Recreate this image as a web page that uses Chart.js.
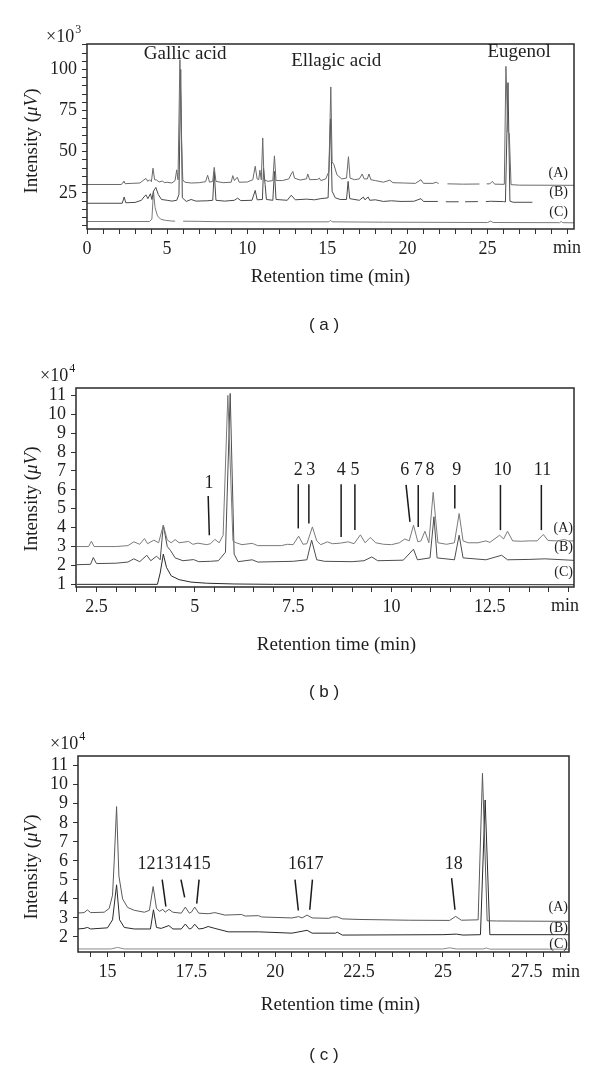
<!DOCTYPE html>
<html>
<head>
<meta charset="utf-8">
<script src="https://cdn.jsdelivr.net/npm/chart.js@4.4.1/dist/chart.umd.min.js"></script>
<style>
  body { margin: 0; background: #fff; width: 600px; height: 1068px; position: relative; overflow: hidden; }
  canvas { position: absolute; left: 0; }
  .cap { position: absolute; left: 0; width: 648px; text-align: center; color: #222;
         font: 17px "Liberation Sans", Arial, sans-serif; line-height: 20px; }
</style>
</head>
<body>
<canvas id="panel-a" width="600" height="330" style="top:0"></canvas>
<canvas id="panel-b" width="600" height="370" style="top:330px"></canvas>
<canvas id="panel-c" width="600" height="368" style="top:700px"></canvas>
<div class="cap" style="top:315px">( a )</div>
<div class="cap" style="top:682px">( b )</div>
<div class="cap" style="top:1045px">( c )</div>
<script>
// ===== Panel (a): full run, intensity x10^3 uV =====
const fullA = [[0,30.1],[2.15,30.1],[2.25,31.5],[2.3,32.2],[2.38,30.6],[2.8,30.8],[3.3,31],[3.5,32.5],[3.68,33.8],[3.8,32],[3.9,33],[4.02,31.8],[4.12,40],[4.22,33],[4.35,32.8],[4.5,31.6],[4.7,32.2],[4.85,31.2],[5.0,31.5],[5.3,31],[5.5,32.5],[5.6,39],[5.68,33],[5.8,106],[5.9,57],[5.98,33],[6.1,31.5],[6.5,31],[7.0,31.2],[7.4,31.8],[7.53,35.7],[7.65,31.5],[7.85,32],[7.94,40.5],[8.05,32],[8.5,31.2],[9.0,31.5],[9.1,35.5],[9.2,32.5],[9.38,34.5],[9.5,31.5],[10.0,31.6],[10.35,33],[10.5,41.2],[10.62,33.5],[10.72,33],[10.79,38.8],[10.88,33],[10.97,58.4],[11.05,33],[11.3,32],[11.6,32.5],[11.7,47.5],[11.8,32.5],[12.2,32.5],[12.6,33.5],[12.75,36.5],[12.85,38],[12.95,34],[13.3,32.8],[13.7,33.5],[13.78,36.5],[13.9,33],[14.4,33.2],[14.5,34],[14.6,32.5],[14.9,33.5],[15.1,38],[15.22,89.4],[15.3,44],[15.42,42],[15.6,36],[15.9,33.5],[16.2,34],[16.32,47],[16.42,34],[16.7,33],[17.0,33.5],[17.18,36.5],[17.3,33.5],[17.5,33.5],[17.6,36.5],[17.72,33],[18.0,32.5],[18.5,31.5],[18.9,32.7],[19.1,31.2],[19.8,31],[20.5,30.8],[20.85,33],[21.0,30.8],[21.6,30.8],[21.8,31.5],[21.95,30.6],[22.0,null],[22.5,30.5],[23.5,30.3],[24.5,30.4],[24.6,null],[24.95,30.5],[25.15,30.5],[25.3,32],[25.45,30.3],[26.05,30.2],[26.15,101.9],[26.27,62],[26.36,61],[26.47,30],[27,29.7],[30.4,29.6]];
const fullB = [[0,18.7],[2.2,18.7],[2.32,22.5],[2.42,19],[3.0,19.2],[3.4,20.5],[3.55,22.5],[3.68,23.8],[3.8,21.5],[3.96,24.5],[4.05,21],[4.15,26],[4.3,28.3],[4.45,24],[4.65,21],[5.0,20.5],[5.3,20],[5.6,20.5],[5.74,24],[5.85,100],[5.95,22],[6.2,19.8],[6.5,21],[6.8,20],[7.5,20.2],[7.85,20.5],[7.94,38],[8.05,20.5],[8.6,20],[9.2,20.5],[9.4,21.8],[9.6,20.3],[10.3,20.5],[10.5,26.5],[10.62,20.8],[10.95,21],[11.02,40],[11.12,30],[11.2,21],[11.6,20.5],[11.7,38],[11.8,21],[12.5,20.5],[12.75,23.6],[13.0,20.8],[13.7,21.2],[14.2,20.8],[14.6,21.5],[15.05,22],[15.2,70],[15.3,26],[15.5,22],[15.8,21],[16.2,21],[16.3,32],[16.4,21.5],[17.0,20.5],[17.25,22.5],[17.35,20.8],[17.55,22.5],[17.65,20.5],[18.0,20.8],[18.5,19.8],[19.0,20.2],[19.6,19.8],[20.4,19.9],[20.85,21.5],[21.0,19.8],[21.9,19.8],[22.0,null],[22.4,19.6],[23.2,19.6],[23.3,null],[23.6,19.6],[24.4,19.7],[24.5,null],[24.9,19.7],[25.2,19.9],[26.0,19.7],[26.12,19.5],[26.28,92],[26.4,20],[26.6,19.3],[27.8,19.3]];
const fullC = [[0,7.6],[3.9,7.6],[4.05,9],[4.15,26],[4.25,16],[4.4,11],[4.6,9],[4.9,8.3],[5.3,7.9],[5.5,7.8],[5.55,null],[6.0,7.8],[7.0,7.7],[8.0,7.5],[12,7.4],[15.1,7.4],[15.2,8.4],[15.3,7.4],[18.5,7.2],[25.0,7.0],[25.2,7.8],[25.35,7.0],[29.5,6.9],[29.6,7.6],[29.7,6.9],[30.4,6.8]];
const fullXTicks = [0,1,2,3,4,5,6,7,8,9,10,11,12,13,14,15,16,17,18,19,20,21,22,23,24,25,26,27,28,29,30];
const fullXLabels = [0,5,10,15,20,25];
const fullYTicks = [5,10,15,20,25,30,35,40,45,50,55,60,65,70,75,80,85,90,95,100,105,110,115];
const fullYLabels = [25,50,75,100];
const fullNames = ['Gallic acid','Ellagic acid','Eugenol'];
const fullNameX = [6.13, 15.56, 26.97];
const fullNameY = [109.4, 105.3, 110.4];
const fullSeriesY = [36.8, 25.2, 13.4];

// ===== Panel (b): 2-14.6 min, intensity x10^4 uV =====
const earlyA = [[2.0,3.0],[2.3,3.0],[2.37,3.28],[2.44,3.0],[3.0,3.0],[3.3,3.05],[3.45,3.25],[3.6,3.12],[3.72,3.42],[3.8,3.15],[3.96,3.34],[4.08,3.2],[4.2,4.13],[4.3,3.35],[4.4,3.2],[4.5,3.37],[4.6,3.2],[4.84,3.27],[4.95,3.12],[5.08,3.18],[5.3,3.1],[5.4,3.15],[5.51,3.38],[5.62,3.2],[5.72,3.6],[5.84,11.0],[5.97,3.3],[6.05,3.2],[6.2,3.1],[6.46,3.17],[6.6,3.05],[7.2,3.05],[7.35,3.12],[7.5,3.1],[7.64,3.55],[7.75,3.12],[7.85,3.15],[7.99,4.04],[8.1,3.3],[8.2,3.1],[8.37,3.25],[8.5,3.15],[8.7,3.18],[8.9,3.25],[9.05,3.15],[9.21,3.62],[9.33,3.2],[9.46,3.48],[9.6,3.2],[9.8,3.12],[10.0,3.1],[10.2,3.2],[10.34,3.4],[10.45,3.3],[10.56,4.13],[10.67,3.25],[10.75,3.3],[10.85,3.81],[10.95,3.2],[11.06,5.87],[11.12,4.5],[11.18,3.2],[11.4,3.12],[11.6,3.2],[11.72,4.75],[11.82,3.3],[11.95,3.2],[12.2,3.2],[12.4,3.3],[12.5,3.22],[12.75,3.6],[12.85,3.4],[12.95,3.81],[13.08,3.3],[13.3,3.28],[13.5,3.3],[13.7,3.3],[13.86,3.64],[13.98,3.32],[14.2,3.3],[14.4,3.37],[14.5,3.3],[14.64,3.3]];
const earlyB = [[2.0,2.04],[2.35,2.06],[2.42,2.42],[2.5,2.1],[3.0,2.12],[3.3,2.18],[3.45,2.35],[3.6,2.2],[3.78,2.54],[3.88,2.25],[4.03,2.49],[4.12,2.3],[4.2,4.13],[4.3,3.0],[4.38,2.8],[4.5,2.4],[4.7,2.25],[4.97,2.31],[5.1,2.2],[5.4,2.22],[5.6,2.25],[5.78,2.7],[5.9,11.1],[6.0,2.6],[6.1,2.2],[6.46,2.3],[6.6,2.18],[7.5,2.22],[7.85,2.3],[7.97,3.34],[8.1,2.3],[8.3,2.22],[9.0,2.2],[9.3,2.25],[9.5,2.45],[9.65,2.25],[10.3,2.28],[10.56,2.86],[10.66,2.3],[10.98,2.4],[11.08,4.58],[11.16,2.4],[11.6,2.3],[11.72,3.6],[11.82,2.4],[12.4,2.3],[12.8,2.54],[12.95,2.3],[13.5,2.32],[13.9,2.35],[14.64,2.27]];
const earlyC = [[2.0,1.0],[4.05,1.0],[4.12,1.6],[4.2,2.6],[4.28,1.9],[4.4,1.45],[4.6,1.25],[4.9,1.12],[5.3,1.06],[6.0,1.02],[7.0,1.0],[14.64,0.98]];
const earlyXTicks = [2,2.5,3,3.5,4,4.5,5,5.5,6,6.5,7,7.5,8,8.5,9,9.5,10,10.5,11,11.5,12,12.5,13,13.5,14,14.5];
const earlyXLabels = [2.5,5,7.5,10,12.5];
const earlyYTicks = [1,2,3,4,5,6,7,8,9,10,11];
const earlyNums = ['1','2','3','4','5','6','7','8','9','10','11'];
const earlyNumX = [5.36, 7.63, 7.95, 8.72, 9.07, 10.34, 10.68, 10.98, 11.66, 12.82, 13.84];
const earlyNumY = [6.35, 7.05, 7.05, 7.05, 7.05, 7.05, 7.05, 7.05, 7.05, 7.05, 7.05];
const earlyLeaders = [[5.34,5.67,5.37,3.6],[7.63,6.3,7.63,3.96],[7.9,6.3,7.9,4.22],[8.72,6.3,8.72,3.51],[9.07,6.3,9.07,3.87],[10.37,6.26,10.47,4.31],[10.68,6.26,10.68,4.04],[11.61,6.26,11.61,5.02],[12.77,6.26,12.77,3.87],[13.81,6.26,13.81,3.87]];
const earlySeriesY = [3.96, 2.98, 1.65];

// ===== Panel (c): 14.1-28.8 min, intensity x10^4 uV =====
const lateA = [[14.12,3.26],[14.3,3.28],[14.4,3.42],[14.5,3.28],[14.9,3.3],[15.05,3.5],[15.15,4.2],[15.2,6],[15.27,8.85],[15.34,5.2],[15.45,4.0],[15.6,3.55],[15.8,3.4],[16.1,3.3],[16.25,3.4],[16.36,4.65],[16.46,3.5],[16.55,3.35],[16.65,3.45],[16.72,3.3],[16.83,3.45],[16.95,3.3],[17.2,3.25],[17.32,3.57],[17.44,3.25],[17.5,3.3],[17.6,3.57],[17.72,3.25],[18.0,3.22],[18.2,3.28],[18.5,3.15],[19.0,3.18],[19.1,3.1],[19.5,3.12],[19.6,3.05],[20.5,3.0],[20.7,3.07],[20.8,3.0],[20.95,3.15],[21.1,3.0],[21.6,2.98],[21.7,3.05],[21.85,3.06],[22.0,2.95],[22.5,2.92],[24.0,2.88],[25.2,2.87],[25.38,3.08],[25.55,2.88],[26.05,2.9],[26.18,10.6],[26.32,2.85],[26.6,2.84],[28.76,2.82]];
const lateB = [[14.12,2.42],[14.3,2.45],[14.4,2.5],[14.5,2.42],[15.0,2.48],[15.15,2.9],[15.27,4.74],[15.36,2.9],[15.5,2.5],[15.8,2.42],[16.28,2.42],[16.37,3.43],[16.46,2.5],[16.6,2.45],[16.83,2.6],[16.95,2.42],[17.2,2.42],[17.32,2.68],[17.44,2.42],[17.5,2.45],[17.6,2.67],[17.72,2.42],[17.85,2.45],[18.0,2.55],[18.2,2.45],[18.6,2.27],[19.5,2.27],[20.5,2.2],[20.95,2.35],[21.1,2.2],[21.8,2.2],[21.85,2.25],[22.0,2.1],[25.0,2.12],[25.4,2.15],[25.6,2.1],[26.12,2.12],[26.26,9.2],[26.4,2.12],[28.76,2.12]];
const lateC = [[14.12,1.37],[15.1,1.37],[15.3,1.45],[15.5,1.37],[25.0,1.37],[25.2,1.43],[25.4,1.37],[26.2,1.37],[26.3,1.42],[26.4,1.36],[28.76,1.36]];
const lateXTicks = [14.5,15,15.5,16,16.5,17,17.5,18,18.5,19,19.5,20,20.5,21,21.5,22,22.5,23,23.5,24,24.5,25,25.5,26,26.5,27,27.5,28,28.5];
const lateXLabels = [15,17.5,20,22.5,25,27.5];
const lateYTicks = [2,3,4,5,6,7,8,9,10,11];
const lateNums = ['12','13','14','15','16','17','18'];
const lateNumX = [16.16, 16.70, 17.25, 17.81, 20.65, 21.17, 25.32];
const lateNumY = [5.8, 5.8, 5.8, 5.8, 5.8, 5.8, 5.8];
const lateLeaders = [[16.63,5.01,16.74,3.6],[17.19,5.01,17.3,4.08],[17.73,5.01,17.66,3.75],[20.59,5.01,20.69,3.39],[21.11,5.01,21.03,3.43],[25.26,5.09,25.36,3.43]];
const lateSeriesY = [3.57, 2.47, 1.6];

const SERIF = '"Liberation Serif", "Times New Roman", serif';
const INK = '#1e1e1e';

// Frame, labels, leader lines and axis titles drawn over the chart
function decoPlugin(d) {
    return {
        id: 'deco',
        afterDraw(chart) {
            const { ctx, chartArea: a } = chart;
            const x = chart.scales.x, y = chart.scales.y;
            ctx.save();
            ctx.strokeStyle = '#2a2a2a';
            ctx.lineWidth = 1.5;
            ctx.strokeRect(a.left, a.top, a.right - a.left, a.bottom - a.top);

            ctx.fillStyle = INK;
            // x10^n multiplier
            ctx.font = `18px ${SERIF}`;
            ctx.textAlign = 'left';
            ctx.textBaseline = 'alphabetic';
            ctx.fillText('×10', d.mulX, d.mulY);
            const mw = ctx.measureText('×10').width;
            ctx.font = `12px ${SERIF}`;
            ctx.fillText(d.exp, d.mulX + mw + 1, d.mulY - 9);

            // "min" at the end of the x axis, and the x title
            ctx.font = `18px ${SERIF}`;
            ctx.textAlign = 'center';
            ctx.textBaseline = 'middle';
            ctx.fillText('min', a.right + d.minDx, d.tickY);
            ctx.font = `19px ${SERIF}`;
            ctx.fillText('Retention time (min)', (a.left + a.right) / 2 + d.titleDx, d.titleY);

            // y title, with italic μV
            ctx.save();
            ctx.translate(d.ytX, d.ytY);
            ctx.rotate(-Math.PI / 2);
            const parts = [['Intensity (', ''], ['μV', 'italic '], [')', '']];
            let total = 0;
            parts.forEach(([t, st]) => { ctx.font = `${st}19px ${SERIF}`; total += ctx.measureText(t).width; });
            let cx = -total / 2;
            ctx.textAlign = 'left';
            parts.forEach(([t, st]) => {
                ctx.font = `${st}19px ${SERIF}`;
                ctx.fillText(t, cx, 0);
                cx += ctx.measureText(t).width;
            });
            ctx.restore();

            // peak names / numbers
            ctx.font = `${d.nameSize}px ${SERIF}`;
            ctx.textAlign = 'center';
            d.names.forEach((t, i) => {
                ctx.fillText(t, x.getPixelForValue(d.nameX[i]), y.getPixelForValue(d.nameY[i]));
            });

            // leader lines
            ctx.strokeStyle = '#1a1a1a';
            ctx.lineWidth = 1.5;
            d.leaders.forEach(([x1, y1, x2, y2]) => {
                ctx.beginPath();
                ctx.moveTo(x.getPixelForValue(x1), y.getPixelForValue(y1));
                ctx.lineTo(x.getPixelForValue(x2), y.getPixelForValue(y2));
                ctx.stroke();
            });

            // (A) (B) (C)
            ctx.font = `14px ${SERIF}`;
            ctx.textAlign = 'right';
            ['(A)', '(B)', '(C)'].forEach((t, i) => {
                ctx.fillText(t, a.right - d.serDx, y.getPixelForValue(d.seriesY[i]));
            });
            ctx.restore();
        }
    };
}

function makePanel(id, p) {
    const canvas = document.getElementById(id);
    const H = canvas.height;
    const tickFont = { family: SERIF, size: 18 };
    return new Chart(canvas.getContext('2d'), {
        type: 'line',
        data: {
            datasets: p.traces.map((pts, i) => ({
                data: pts,
                borderColor: p.colors[i],
                borderWidth: 1,
                pointRadius: 0,
                tension: 0,
                spanGaps: false,
                fill: false,
            })),
        },
        options: {
            responsive: false,
            animation: false,
            parsing: true,
            layout: { padding: { left: 0, right: 600 - p.frame.right, top: p.frame.top, bottom: 0 } },
            plugins: { legend: { display: false }, tooltip: { enabled: false } },
            scales: {
                x: {
                    type: 'linear',
                    min: p.xMin,
                    max: p.xMax,
                    afterFit: (s) => { s.height = H - p.frame.bottom; },
                    afterBuildTicks: (s) => { s.ticks = p.xTicks.map(v => ({ value: v })); },
                    ticks: {
                        autoSkip: false, maxRotation: 0, padding: 4, color: INK, font: tickFont,
                        callback: (v) => p.xLabels.includes(v) ? String(v) : '',
                    },
                    grid: { drawOnChartArea: false, drawTicks: true, tickLength: 5, tickColor: '#333', tickWidth: 1 },
                    border: { display: false },
                },
                y: {
                    type: 'linear',
                    min: p.yMin,
                    max: p.yMax,
                    afterFit: (s) => { s.width = p.frame.left; },
                    afterBuildTicks: (s) => { s.ticks = p.yTicks.map(v => ({ value: v })); },
                    ticks: {
                        autoSkip: false, padding: 5, color: INK, font: tickFont,
                        callback: (v) => p.yLabels.includes(v) ? String(v) : '',
                    },
                    grid: { drawOnChartArea: false, drawTicks: true, tickLength: 5, tickColor: '#333', tickWidth: 1 },
                    border: { display: false },
                },
            },
        },
        plugins: [decoPlugin(p.deco)],
    });
}

makePanel('panel-a', {
    traces: [fullA, fullB, fullC],
    colors: ['#6a6a6a', '#4a4a4a', '#7a7a7a'],
    frame: { left: 87, right: 574, top: 44, bottom: 229 },
    xMin: 0, xMax: 30.4, yMin: 3.05, yMax: 115.5,
    xTicks: fullXTicks, xLabels: fullXLabels, yTicks: fullYTicks, yLabels: fullYLabels,
    deco: {
        exp: '3', mulX: 46, mulY: 42, minDx: -7, tickY: 248.5, titleDx: 0, titleY: 276.7,
        ytX: 32, ytY: 141, nameSize: 19, names: fullNames, nameX: fullNameX, nameY: fullNameY,
        leaders: [], seriesY: fullSeriesY, serDx: 6,
    },
});

makePanel('panel-b', {
    traces: [earlyA, earlyB, earlyC],
    colors: ['#7a7a7a', '#4d4d4d', '#2a2a2a'],
    frame: { left: 76, right: 574, top: 58, bottom: 257 },
    xMin: 1.98, xMax: 14.64, yMin: 0.86, yMax: 11.39,
    xTicks: earlyXTicks, xLabels: earlyXLabels, yTicks: earlyYTicks, yLabels: earlyYTicks,
    deco: {
        exp: '4', mulX: 40, mulY: 51, minDx: -9, tickY: 276.7, titleDx: 11.5, titleY: 315,
        ytX: 32, ytY: 169, nameSize: 18, names: earlyNums, nameX: earlyNumX, nameY: earlyNumY,
        leaders: earlyLeaders, seriesY: earlySeriesY, serDx: 1,
    },
});

makePanel('panel-c', {
    traces: [lateA, lateB, lateC],
    colors: ['#5a5a5a', '#2a2a2a', '#8a8a8a'],
    frame: { left: 78, right: 569, top: 56, bottom: 252 },
    xMin: 14.12, xMax: 28.76, yMin: 1.21, yMax: 11.51,
    xTicks: lateXTicks, xLabels: lateXLabels, yTicks: lateYTicks, yLabels: lateYTicks,
    deco: {
        exp: '4', mulX: 50, mulY: 49, minDx: -3, tickY: 272, titleDx: 17, titleY: 305,
        ytX: 32, ytY: 167, nameSize: 18, names: lateNums, nameX: lateNumX, nameY: lateNumY,
        leaders: lateLeaders, seriesY: lateSeriesY, serDx: 1,
    },
});
</script>
</body>
</html>
